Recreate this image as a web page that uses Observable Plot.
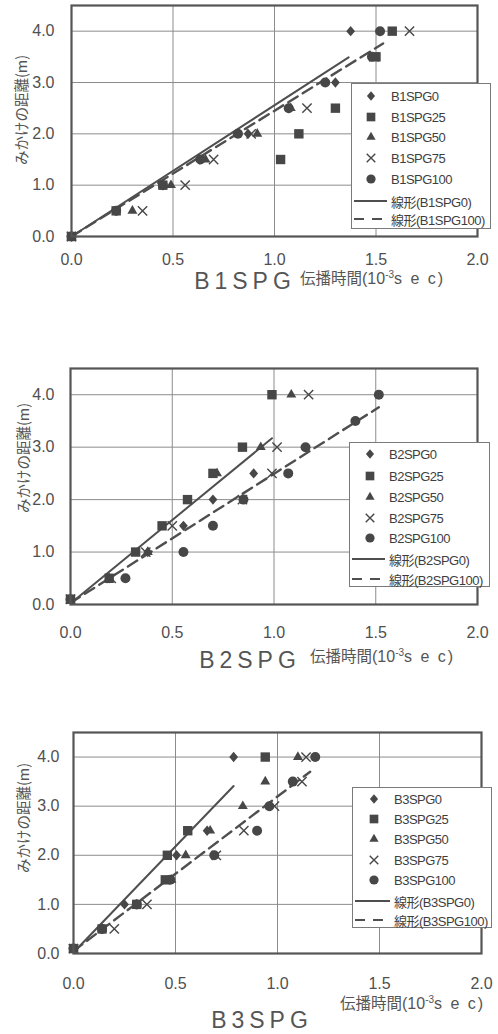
<!DOCTYPE html>
<html><head><meta charset="utf-8">
<script src="https://cdn.jsdelivr.net/npm/d3@7"></script>
<script src="https://cdn.jsdelivr.net/npm/@observablehq/plot@0.6"></script>
<style>
body{margin:0;background:#fff;}
#root{position:relative;width:498px;height:1034px;overflow:hidden;font-family:"Liberation Sans",Arial,sans-serif;color:#4a4a4a;}
.ylab{position:absolute;font-family:"Noto Sans CJK JP",sans-serif;font-size:14.5px;white-space:nowrap;transform:translate(-50%,-50%) rotate(-90deg);color:#555;}
.title{position:absolute;font-size:23px;letter-spacing:5px;transform:translate(-50%,-50%);white-space:nowrap;color:#555;}
.xlab{position:absolute;white-space:nowrap;transform:translateY(-50%);font-size:16px;color:#555;}
.xlab .jp{font-family:"Noto Sans CJK JP",sans-serif;font-size:15.5px;letter-spacing:0px;}
.xlab .sec{letter-spacing:2px;}
.xlab sup{font-size:10px;vertical-align:6px;}
.legend{position:absolute;border:1px solid #7a7a7a;background:#fff;box-sizing:border-box;}
.legend .t{position:absolute;transform:translateY(-50%);font-size:13px;letter-spacing:-0.5px;white-space:nowrap;color:#3e3e3e;}
.legend .t .jp{font-family:"Noto Sans CJK JP",sans-serif;letter-spacing:-0.5px;}
.legend svg{position:absolute;overflow:visible;}
</style></head>
<body><div id="root"></div>
<script>
// ---------- data ----------
const xTicks = [0, 0.5, 1.0, 1.5, 2.0];
const yTicks = [0, 1, 2, 3, 4];
const xGrid = [0.5, 1.0, 1.5];
const yGrid = [1, 2, 3, 4];

// B1SPG : distance (m) vs travel time (10^-3 s)
const dist1 = [0, 0.5, 1.0, 1.5, 2.0, 2.5, 3.0, 3.5, 4.0];
const names1 = ["B1SPG0", "B1SPG25", "B1SPG50", "B1SPG75", "B1SPG100"];
const B1SPG0   = [0, 0.22, 0.45, 0.63, 0.87, 1.07, 1.30, null, 1.375];
const B1SPG25  = [0, 0.22, 0.45, 1.03, 1.12, 1.30, null, 1.50, 1.58];
const B1SPG50  = [0, 0.30, 0.49, 0.66, 0.915, 1.08, null, null, null];
const B1SPG75  = [0, 0.35, 0.56, 0.70, 0.885, 1.16, null, 1.49, 1.665];
const B1SPG100 = [0, 0.22, 0.45, 0.635, 0.82, 1.07, 1.25, 1.48, 1.52];
const trend1Solid  = [[0, 0.0], [1.365, 3.49]];
const trend1Dashed = [[0, 0.0], [1.535, 3.76]];
const trendNames1 = ["線形(B1SPG0)", "線形(B1SPG100)"];

// B2SPG
const dist2 = [0.1, 0.5, 1.0, 1.5, 2.0, 2.5, 3.0, 3.5, 4.0];
const names2 = ["B2SPG0", "B2SPG25", "B2SPG50", "B2SPG75", "B2SPG100"];
const B2SPG0   = [0, 0.19, 0.38, 0.555, 0.70, 0.90, null, null, null];
const B2SPG25  = [0, 0.19, 0.32, 0.45, 0.575, 0.70, 0.845, null, 0.99];
const B2SPG50  = [0, 0.19, 0.38, null, null, 0.72, 0.935, null, 1.085];
const B2SPG75  = [0, 0.20, 0.37, 0.50, 0.845, 0.99, 1.015, null, 1.17];
const B2SPG100 = [0, 0.27, 0.555, 0.70, 0.85, 1.07, 1.155, 1.40, 1.515];
const trend2Solid  = [[0, 0.02], [0.99, 3.17]];
const trend2Dashed = [[0, 0.03], [1.515, 3.76]];
const trendNames2 = ["線形(B2SPG0)", "線形(B2SPG100)"];

// B3SPG
const dist3 = [0.1, 0.5, 1.0, 1.5, 2.0, 2.5, 3.0, 3.5, 4.0];
const names3 = ["B3SPG0", "B3SPG25", "B3SPG50", "B3SPG75", "B3SPG100"];
const B3SPG0   = [0, 0.14, 0.25, null, 0.505, 0.655, null, null, 0.785];
const B3SPG25  = [0, 0.14, 0.31, 0.45, 0.46, 0.56, null, null, 0.94];
const B3SPG50  = [0, 0.14, 0.31, 0.48, 0.55, 0.67, 0.83, 0.94, 1.10];
const B3SPG75  = [0, 0.20, 0.36, null, 0.70, 0.835, 0.985, 1.12, 1.14];
const B3SPG100 = [0, 0.14, 0.31, 0.475, 0.69, 0.90, 0.96, 1.075, 1.185];
const trend3Solid  = [[0, 0.02], [0.785, 3.41]];
const trend3Dashed = [[0, 0.05], [1.16, 3.70]];
const trendNames3 = ["線形(B3SPG0)", "線形(B3SPG100)"];

const yTitle = "みかけの距離(m)";

// ---------- styling ----------
const wideDiamond = {
  draw(context, size) {
    const h = Math.sqrt(size) * 0.75, w = h * 0.85;
    context.moveTo(0, -h); context.lineTo(w, 0); context.lineTo(0, h); context.lineTo(-w, 0); context.closePath();
  }
};
const markerKinds = [wideDiamond, d3.symbolSquare, d3.symbolTriangle, d3.symbolTimes, d3.symbolCircle];
const markerR = [3.9, 5.3, 3.7, 4.3, 5];
const ink = "#474747";

const root = document.getElementById("root");

function dotMarks(dist, seriesTimes) {
  return seriesTimes.map((times, i) => {
    const data = dist.map((d, j) => ({t: times[j], d})).filter(p => p.t != null);
    const stroked = i === 3;
    return Plot.dot(data, {x: "t", y: "d", symbol: markerKinds[i], r: markerR[i],
      fill: stroked ? "none" : ink, stroke: stroked ? ink : "none", strokeWidth: 1.4});
  });
}

function panel(cfg) {
  const H = cfg.frameBottom - cfg.top + 45;
  const p = Plot.plot({
    width: 498, height: H,
    marginTop: cfg.frameTop - cfg.top,
    marginBottom: H - (cfg.frameBottom - cfg.top),
    marginLeft: cfg.left, marginRight: 498 - cfg.right,
    x: {domain: [0, 2]},
    y: {domain: [0, 4.5]},
    style: {background: "transparent", color: "#505050", fontFamily: "'Liberation Sans', Arial, sans-serif", fontSize: "16px", overflow: "visible"},
    marks: [
      Plot.ruleX(xGrid, {stroke: "#8c8c8c", strokeWidth: 1}),
      Plot.ruleY(yGrid, {stroke: "#8c8c8c", strokeWidth: 1}),
      Plot.line(cfg.solid, {x: d => d[0], y: d => d[1], stroke: "#4f4f4f", strokeWidth: 2}),
      Plot.line(cfg.dashed, {x: d => d[0], y: d => d[1], stroke: "#4f4f4f", strokeWidth: 2.4, strokeDasharray: "11,6"}),
      ...dotMarks(cfg.dist, cfg.series),
      Plot.frame({stroke: "#555", strokeWidth: 2.2}),
      Plot.axisX(xTicks, {tickFormat: d3.format(".1f"), tickSize: 0, tickPadding: cfg.xPad, label: null, fontSize: 16}),
      Plot.axisY(yTicks, {tickFormat: d3.format(".1f"), tickSize: 0, tickPadding: cfg.yPad, label: null, fontSize: 16})
    ]
  });
  p.style.position = "absolute";
  p.style.left = "0px";
  p.style.top = cfg.top + "px";
  root.appendChild(p);

  const yl = document.createElement("div");
  yl.className = "ylab"; yl.textContent = yTitle;
  yl.style.left = cfg.ylab[0] + "px"; yl.style.top = cfg.ylab[1] + "px";
  root.appendChild(yl);

  const xl = document.createElement("div");
  xl.className = "xlab";
  xl.innerHTML = '<span class="jp">伝播時間</span>(10<sup>-3</sup><span class="sec">s e c</span>)';
  xl.style.left = cfg.xlab[0] + "px"; xl.style.top = cfg.xlab[1] + "px";
  root.appendChild(xl);

  const tt = document.createElement("div");
  tt.className = "title"; tt.textContent = cfg.title;
  tt.style.left = cfg.titlePos[0] + "px"; tt.style.top = cfg.titlePos[1] + "px";
  root.appendChild(tt);

  const lg = document.createElement("div");
  lg.className = "legend";
  const [lx, ly, lx2, ly2] = cfg.legBox;
  lg.style.left = lx + "px"; lg.style.top = ly + "px";
  lg.style.width = (lx2 - lx) + "px"; lg.style.height = (ly2 - ly) + "px";
  cfg.names.forEach((nm, i) => {
    const yy = cfg.legRows[i];
    const s = d3.select(lg).append("svg").attr("width", 1).attr("height", 1)
      .style("left", cfg.legSymX + "px").style("top", yy + "px");
    const stroked = i === 3;
    s.append("path").attr("d", d3.symbol(markerKinds[i], Math.PI * markerR[i] * markerR[i] * 0.85)())
      .attr("fill", stroked ? "none" : ink).attr("stroke", stroked ? ink : "none").attr("stroke-width", 1.4);
    d3.select(lg).append("div").attr("class", "t").style("left", cfg.legTextX + "px").style("top", yy + "px").text(nm);
  });
  cfg.trendNames.forEach((nm, k) => {
    const yy = cfg.legRows[5 + k];
    const s = d3.select(lg).append("svg").attr("width", 1).attr("height", 1)
      .style("left", "0px").style("top", yy + "px");
    s.append("line").attr("x1", 2).attr("x2", cfg.legTextX - 4).attr("y1", 0).attr("y2", 0)
      .attr("stroke", "#4f4f4f").attr("stroke-width", 2)
      .attr("stroke-dasharray", k === 1 ? "10,8" : null);
    const m = nm.match(/^(線形)(.*)$/);
    d3.select(lg).append("div").attr("class", "t").style("left", cfg.legTextX + "px").style("top", yy + "px")
      .html('<span class="jp">' + m[1] + '</span>' + m[2]);
  });
  root.appendChild(lg);
}

panel({top: 0, frameTop: 5, frameBottom: 236, left: 71, right: 477, xPad: 17, yPad: 17,
  dist: dist1, series: [B1SPG0, B1SPG25, B1SPG50, B1SPG75, B1SPG100], names: names1,
  solid: trend1Solid, dashed: trend1Dashed, trendNames: trendNames1,
  ylab: [20, 110], xlab: [300, 277], title: "B1SPG", titlePos: [245, 281],
  legBox: [351, 83, 491, 229], legRows: [12, 33, 53, 74, 95, 117, 135], legSymX: 19, legTextX: 39});

panel({top: 340, frameTop: 368, frameBottom: 604, left: 70, right: 477, xPad: 22, yPad: 16,
  dist: dist2, series: [B2SPG0, B2SPG25, B2SPG50, B2SPG75, B2SPG100], names: names2,
  solid: trend2Solid, dashed: trend2Dashed, trendNames: trendNames2,
  ylab: [22, 458], xlab: [310, 655], title: "B2SPG", titlePos: [250, 660],
  legBox: [349, 442, 490, 587], legRows: [11, 33, 54, 75, 95, 116, 136], legSymX: 20, legTextX: 39});

panel({top: 700, frameTop: 732, frameBottom: 953, left: 73, right: 481, xPad: 24, yPad: 14,
  dist: dist3, series: [B3SPG0, B3SPG25, B3SPG50, B3SPG75, B3SPG100], names: names3,
  solid: trend3Solid, dashed: trend3Dashed, trendNames: trendNames3,
  ylab: [22, 818], xlab: [340, 1002], title: "B3SPG", titlePos: [262, 1020],
  legBox: [352, 787, 492, 928], legRows: [11, 31, 51, 72, 92, 113, 132], legSymX: 21, legTextX: 41});
</script></body></html>
